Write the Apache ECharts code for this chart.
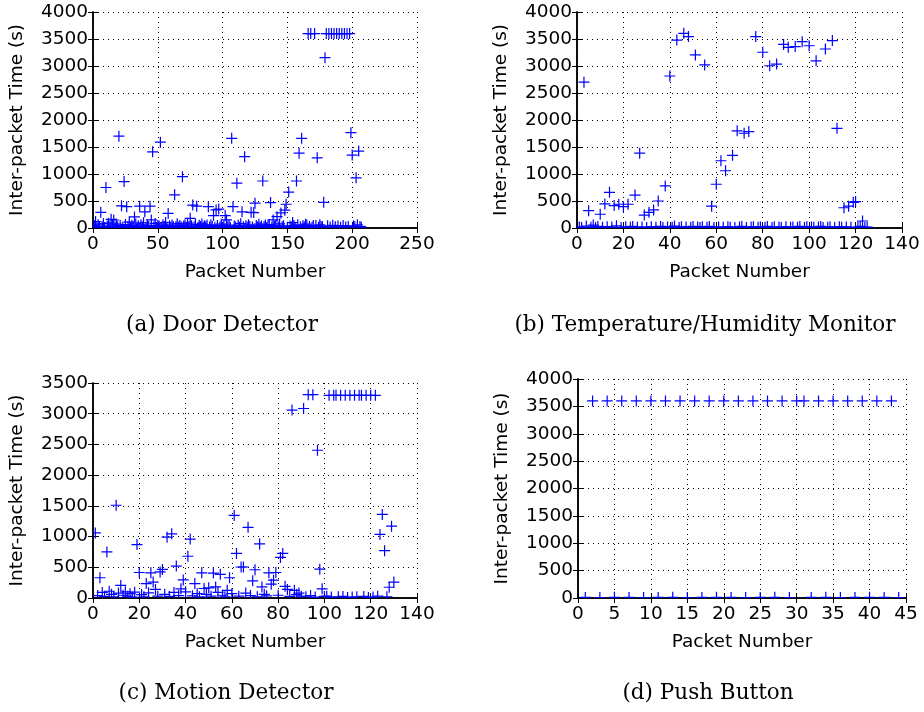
<!DOCTYPE html>
<html><head><meta charset="utf-8">
<script src="https://cdn.jsdelivr.net/npm/echarts@6/dist/echarts.min.js"></script>
<style>html,body{margin:0;padding:0;background:#fff}#c{width:924px;height:712px}</style>
</head><body><div id="c"></div>
<script>
// Inter-packet times (s), indexed by packet number starting at 1
const doorValues = [
  40,120,15,60,30,290,25,80,10,750,
  35,90,20,160,55,148,12,70,25,1700,
  45,410,18,860,65,395,30,110,8,50,
  20,205,75,15,40,405,60,25,95,300,
  15,50,30,405,150,1410,22,85,10,45,
  35,1590,12,60,28,100,18,270,40,15,
  55,25,615,30,80,12,45,20,950,35,
  60,15,90,25,180,40,425,20,65,405,
  10,50,30,75,15,40,22,55,395,18,
  60,28,230,12,335,45,350,20,70,15,
  40,230,150,25,55,10,1660,395,35,20,
  830,50,15,80,300,25,1320,40,12,60,
  30,290,18,285,460,45,20,70,15,35,
  870,25,55,10,40,65,470,20,150,30,
  50,210,15,75,280,25,40,330,440,12,
  665,35,20,100,45,15,870,60,1385,25,
  1660,40,18,70,55,3600,30,3600,12,45,
  3600,45,1300,15,60,30,25,476,3155,3600,
  40,3600,18,3600,50,3600,25,3600,35,3600,
  15,3600,45,3600,20,3600,30,3600,1765,1350,
  40,25,930,60,1425,30,15
];
const tempValues = [
  20,8,2700,35,320,15,55,10,30,255,
  12,445,25,660,18,415,40,440,10,395,
  22,440,15,30,610,12,1385,20,240,8,
  290,25,335,15,500,30,10,780,20,2815,
  15,35,3480,10,25,3605,18,3545,12,30,
  3205,20,8,25,3020,15,30,405,10,810,
  20,1245,12,1060,25,15,1345,8,1800,20,
  30,1755,10,1785,18,25,3545,12,20,3255,
  15,30,3005,10,22,3035,18,8,3400,25,
  3345,12,20,3360,15,30,3450,10,25,3375,
  18,12,3095,20,30,8,3315,15,22,3470,
  10,1845,25,15,375,20,405,12,475,490,
  18,30,130,10,15
];
const motionValues = [
  1060,40,330,90,25,750,110,60,20,1510,
  80,205,45,100,30,70,15,95,870,415,
  55,20,235,85,410,260,140,30,425,465,
  60,990,25,1045,90,520,40,150,295,100,
  680,960,35,235,70,20,410,155,60,165,
  30,405,180,90,385,45,20,125,330,70,
  1345,725,30,505,505,80,1150,40,280,460,
  20,880,180,60,35,410,225,290,415,45,
  660,725,190,140,25,3060,125,55,80,30,
  3085,20,3310,40,3310,15,2405,470,150,25,
  30,3300,15,3300,3300,20,3300,25,3300,10,
  3300,15,3300,20,3300,3300,25,3300,10,3300,
  15,3300,30,1035,1360,770,20,175,1170,260
];
const buttonValues = [
  10,3600,8,3600,12,3600,10,3600,8,3600,
  10,3600,12,3600,8,3600,10,3600,12,3600,
  10,3600,8,3600,10,3600,12,3600,8,3600,
  3600,10,3600,12,3600,8,3600,10,3600,12,
  3600,10,3600,8
];
const captions = ['(a) Door Detector','(b) Temperature/Humidity Monitor','(c) Motion Detector','(d) Push Button'];
const xMaxes = [250,140,140,45];
const xSteps = [50,20,20,5];
const yMaxes = [4000,4000,3500,4000];
const ySteps = [500,500,500,500];
const xName = 'Packet Number';
const yName = 'Inter-packet Time (s)';

const panels = [
  {values: doorValues,   grid:{left:93, top:12, width:324, height:216}, cap:[222,325]},
  {values: tempValues,   grid:{left:577,top:12, width:325, height:216}, cap:[705,325]},
  {values: motionValues, grid:{left:93, top:383,width:324, height:215}, cap:[226,693]},
  {values: buttonValues, grid:{left:578,top:379,width:328, height:219}, cap:[708,693]}
];

const FONT = 'DejaVu Sans';
const FS = 18.5;
const plain = v => String(v);
const frame = {show:true, lineStyle:{color:'#000', width:1.5}};
const tick = {show:true, inside:true, length:5, lineStyle:{color:'#000', width:1}};
const grid = [], xAxis = [], yAxis = [], series = [], graphic = [];

panels.forEach((p,i) => {
  grid.push(Object.assign({show:false}, p.grid));
  xAxis.push({
    gridIndex:i, type:'value', min:0, max:xMaxes[i], interval:xSteps[i], position:'bottom',
    axisLine:frame, axisTick:tick,
    axisLabel:{color:'#000', fontFamily:FONT, fontSize:FS, margin:7, formatter:plain},
    splitLine:{show:true, lineStyle:{color:'#000', width:1, type:[1,4]}},
    name:xName, nameLocation:'middle', nameGap:35,
    nameTextStyle:{color:'#000', fontFamily:FONT, fontSize:FS}
  });
  xAxis.push({
    gridIndex:i, type:'value', min:0, max:xMaxes[i], interval:xSteps[i], position:'top',
    axisLine:frame, axisTick:tick, axisLabel:{show:false}, splitLine:{show:false}
  });
  yAxis.push({
    gridIndex:i, type:'value', min:0, max:yMaxes[i], interval:ySteps[i], position:'left',
    axisLine:frame, axisTick:tick,
    axisLabel:{color:'#000', fontFamily:FONT, fontSize:FS, margin:5, formatter:plain},
    splitLine:{show:true, lineStyle:{color:'#000', width:1, type:[1,4]}},
    name:yName, nameLocation:'middle', nameGap:66,
    nameTextStyle:{color:'#000', fontFamily:FONT, fontSize:FS}
  });
  yAxis.push({
    gridIndex:i, type:'value', min:0, max:yMaxes[i], interval:ySteps[i], position:'right',
    axisLine:frame, axisTick:tick, axisLabel:{show:false}, splitLine:{show:false}
  });
  series.push({
    type:'custom', xAxisIndex:2*i, yAxisIndex:2*i, clip:true,
    data:p.values.map((v,k) => [k+1, v]),
    encode:{x:0, y:1},
    renderItem:(params, api) => {
      const c = api.coord([api.value(0), api.value(1)]);
      const h = 5.5;
      return {type:'path', shape:{pathData:
        'M'+(c[0]-h)+' '+c[1]+'L'+(c[0]+h)+' '+c[1]+'M'+c[0]+' '+(c[1]-h)+'L'+c[0]+' '+(c[1]+h)},
        style:{stroke:'#0000ff', lineWidth:1.2, fill:null}};
    }
  });
  graphic.push({type:'text', x:p.cap[0], y:p.cap[1],
    style:{text:captions[i], fill:'#000', font:'21.5px "DejaVu Serif"', textAlign:'center', textVerticalAlign:'middle'}});
});

const chart = echarts.init(document.getElementById('c'), null, {renderer:'canvas'});
chart.setOption({animation:false, backgroundColor:'#fff', grid, xAxis, yAxis, series, graphic});
</script>
</body></html>
